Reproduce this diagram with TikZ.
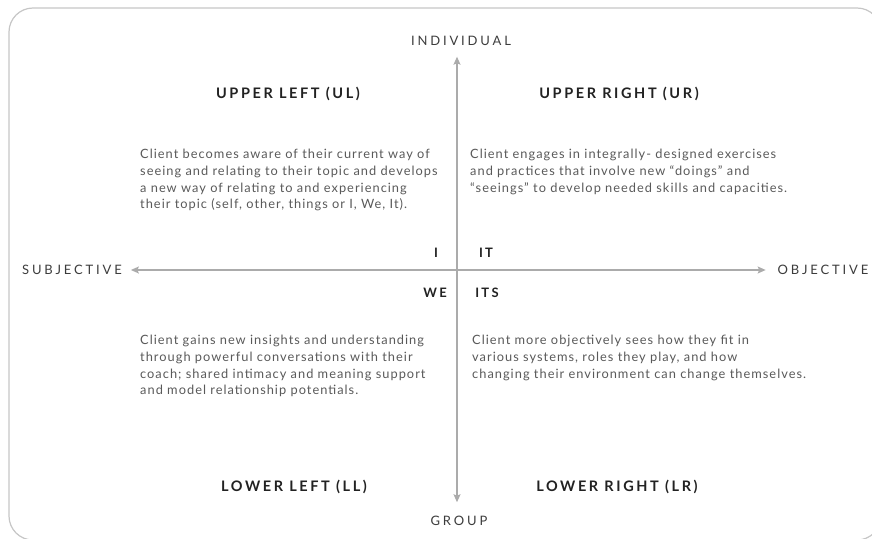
\documentclass[tikz,border=0pt]{standalone}
\usepackage{fontspec}
\setmainfont{Lato}
\newfontfamily\capsfont[LetterSpace=22]{Lato}
\newfontfamily\headfont[LetterSpace=18]{Lato}
\newfontfamily\bodyfont[LetterSpace=8]{Lato}
\usepackage{tikz}
\usetikzlibrary{arrows.meta,positioning}
\definecolor{AxisGray}{HTML}{ABABAB}
\definecolor{FrameGray}{HTML}{C6C6C6}
\definecolor{BodyInk}{HTML}{595959}
\definecolor{HeadInk}{HTML}{222222}
\definecolor{LabelInk}{HTML}{3C3C3C}
\tikzset{
  quadhead/.style={font=\fontsize{14.5}{16}\selectfont\headfont\bfseries,text=HeadInk,inner sep=0pt},
  quadtext/.style={font=\fontsize{12.8}{16.7}\selectfont\bodyfont,text=BodyInk,align=left,anchor=north west,inner sep=0pt},
  zonetag/.style={font=\fontsize{13}{15}\selectfont\headfont\bfseries,text=HeadInk,inner sep=0pt},
  axislabel/.style={font=\fontsize{13}{15}\selectfont\capsfont,text=LabelInk,inner sep=0pt,outer sep=0pt},
  axisline/.style={draw=AxisGray,line width=1.2pt,
    {Stealth[length=8pt,width=7pt,inset=1.5pt]}-{Stealth[length=8pt,width=7pt,inset=1.5pt]}}}

\begin{document}
\begin{tikzpicture}[x=1pt,y=-1pt]
      \useasboundingbox (0,0) rectangle (872,538);
      \clip (0,0) rectangle (872,538);
      \draw[FrameGray,line width=1.2pt,rounded corners=24pt] (9,8) rectangle (881,540);
      % axis labels
      \node[axislabel] (indiv) at (461,41) {INDIVIDUAL};
      \node[axislabel] (group) at (459,521) {GROUP};
      \node[axislabel] (subj) at (72,270) {SUBJECTIVE};
      \node[axislabel] (obj) at (823,270) {OBJECTIVE};
      \draw[axisline,shorten <=11pt,shorten >=14pt] (indiv.south -| 457,0) -- (457,0 |- group.north);
      \draw[axisline,shorten <=9pt,shorten >=12pt] (subj.east) -- (obj.west);
      % quadrant headings
      \node[quadhead] (ul) at (288,94) {UPPER LEFT (UL)};
      \node[quadhead] (ur) at (619,94) {UPPER RIGHT (UR)};
      \node[quadhead] (ll) at (294,487) {LOWER LEFT (LL)};
      \node[quadhead] (lr) at (617,487) {LOWER RIGHT (LR)};
      % centre tags
      \node[zonetag] (tagi) at (436,253) {I};
      \node[zonetag] (tagit) at (486,253) {IT};
      \node[zonetag] (tagwe) at (435,293) {WE};
      \node[zonetag] (tagits) at (487,293) {ITS};
      % quadrant texts
      \node[quadtext] (ultext) at (140,149) {Client becomes aware of their current way of\\
        seeing and relating to their topic and develops\\
        a new way of relating to and experiencing\\
        their topic (self, other, things or I, We, It).};
      \node[quadtext] (urtext) at (470,149) {Client engages in integrally- designed exercises\\
        and practices that involve new “doings” and\\
        “seeings” to develop needed skills and capacities.};
      \node[quadtext] (lltext) at (140,335) {Client gains new insights and understanding\\
        through powerful conversations with their\\
        coach; shared intimacy and meaning support\\
        and model relationship potentials.};
      \node[quadtext] (lrtext) at (472,335) {Client more objectively sees how they fit in\\
        various systems, roles they play, and how\\
        changing their environment can change themselves.};
    \end{tikzpicture}
\end{document}
